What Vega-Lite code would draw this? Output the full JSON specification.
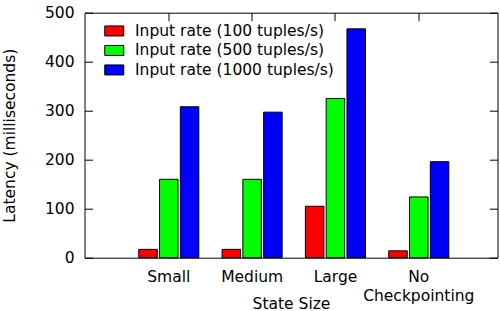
{
  "$schema": "https://vega.github.io/schema/vega-lite/v6.json",
  "autosize": "none",
  "width": 413,
  "height": 245,
  "padding": {"left": 84.5, "top": 12.7, "right": 2.5, "bottom": 53.3},
  "background": "white",
  "config": {
    "font": "DejaVu Sans",
    "view": {"stroke": "black", "strokeWidth": 1},
    "axis": {"labelFont": "DejaVu Sans", "titleFont": "DejaVu Sans", "labelFontSize": 15.5, "titleFontSize": 15.5, "labelColor": "black", "titleColor": "black", "titleFontWeight": "normal", "domainColor": "black", "tickColor": "black", "grid": false}
  },
  "data": {"values": [
    {"state": "Small", "rate": "Input rate (100 tuples/s)", "latency": 17},
    {"state": "Small", "rate": "Input rate (500 tuples/s)", "latency": 160},
    {"state": "Small", "rate": "Input rate (1000 tuples/s)", "latency": 308},
    {"state": "Medium", "rate": "Input rate (100 tuples/s)", "latency": 17},
    {"state": "Medium", "rate": "Input rate (500 tuples/s)", "latency": 160},
    {"state": "Medium", "rate": "Input rate (1000 tuples/s)", "latency": 297},
    {"state": "Large", "rate": "Input rate (100 tuples/s)", "latency": 105},
    {"state": "Large", "rate": "Input rate (500 tuples/s)", "latency": 325},
    {"state": "Large", "rate": "Input rate (1000 tuples/s)", "latency": 467},
    {"state": "No Checkpointing", "rate": "Input rate (100 tuples/s)", "latency": 14},
    {"state": "No Checkpointing", "rate": "Input rate (500 tuples/s)", "latency": 124},
    {"state": "No Checkpointing", "rate": "Input rate (1000 tuples/s)", "latency": 196}
  ]},
  "resolve": {"axis": {"x": "independent", "y": "independent"}},
  "layer": [
    {
      "mark": {"type": "bar", "stroke": "black", "strokeWidth": 1, "opacity": 1},
      "encoding": {
        "x": {"field": "state", "type": "nominal", "sort": ["Small", "Medium", "Large", "No Checkpointing"],
          "scale": {"paddingInner": 0.279, "paddingOuter": 0.6175, "align": 0.527},
          "axis": {"orient": "bottom", "title": "State Size", "labelAngle": 0, "domain": false, "tickSize": -8, "labelPadding": 19.5,
            "labelExpr": "datum.value == 'No Checkpointing' ? ['No', 'Checkpointing'] : datum.value", "labelLineHeight": 19.5,
            "titleY": 50.5, "titleBaseline": "alphabetic"}},
        "xOffset": {"field": "rate", "type": "nominal", "sort": ["Input rate (100 tuples/s)", "Input rate (500 tuples/s)", "Input rate (1000 tuples/s)"],
          "scale": {"paddingInner": 0.11, "paddingOuter": 0}},
        "y": {"field": "latency", "type": "quantitative", "scale": {"domain": [0, 500], "nice": false},
          "axis": {"orient": "left", "title": "Latency (milliseconds)", "values": [0, 100, 200, 300, 400, 500], "domain": false, "tickSize": -8, "labelPadding": 18.5,
            "titleX": -67.5, "titleY": 122.5, "titleBaseline": "bottom", "titleAnchor": "middle"}},
        "color": {"field": "rate", "type": "nominal", "sort": ["Input rate (100 tuples/s)", "Input rate (500 tuples/s)", "Input rate (1000 tuples/s)"],
          "scale": {"domain": ["Input rate (100 tuples/s)", "Input rate (500 tuples/s)", "Input rate (1000 tuples/s)"], "range": ["#ff0000", "#00ff00", "#0000ff"]},
          "legend": {"title": null, "orient": "none", "legendX": 22, "legendY": 10.5, "padding": 0, "rowPadding": 2.5,
            "symbolType": "M-1.9,-1H1.9V1H-1.9Z", "symbolSize": 100, "symbolStrokeColor": "black", "symbolStrokeWidth": 1, "symbolOpacity": 1,
            "labelFont": "DejaVu Sans", "labelFontSize": 15.5, "labelColor": "black", "labelOffset": 13, "labelLimit": 400}}
      }
    },
    {
      "mark": {"type": "bar", "opacity": 0},
      "encoding": {
        "x": {"field": "state", "type": "nominal", "sort": ["Small", "Medium", "Large", "No Checkpointing"],
          "axis": {"orient": "top", "title": null, "labels": false, "domain": false, "tickSize": -8}},
        "xOffset": {"field": "rate", "type": "nominal", "sort": ["Input rate (100 tuples/s)", "Input rate (500 tuples/s)", "Input rate (1000 tuples/s)"]},
        "y": {"field": "latency", "type": "quantitative",
          "axis": {"orient": "right", "title": null, "labels": false, "domain": false, "values": [0, 100, 200, 300, 400, 500], "tickSize": -8}}
      }
    }
  ]
}
